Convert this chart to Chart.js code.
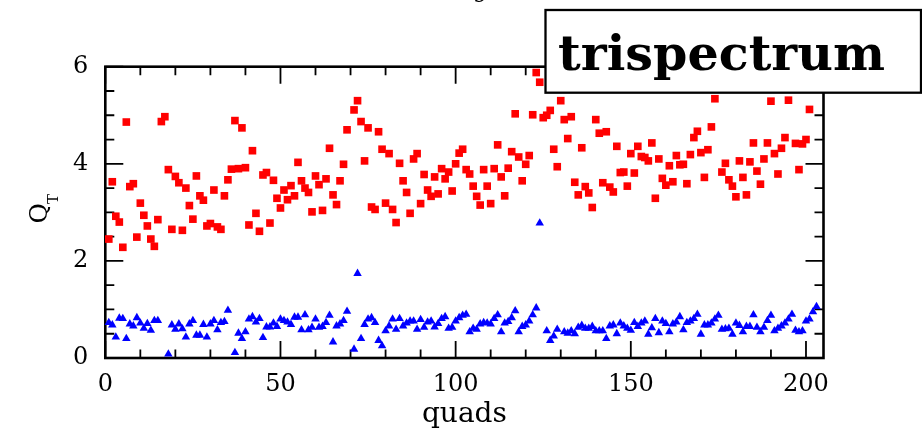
<!DOCTYPE html>
<html>
<head>
<meta charset="utf-8">
<script src="https://cdn.jsdelivr.net/npm/chart.js@4.4.1/dist/chart.umd.min.js"></script>
<style>
  html, body { margin: 0; padding: 0; background: #fff; }
</style>
</head>
<body>
<canvas id="qCanvas" width="922" height="432"></canvas>
<script>
// Q_T per quad (null = not visible / off the axis range)
const redQ = [
  2.45, 3.63, 2.92, 2.80, 2.28, 4.86, 3.53, 3.59, 2.49, 3.19,
  2.94, 2.72, 2.45, 2.30, 2.85, 4.87, 4.97, 3.88, 2.65, 3.74,
  3.61, 2.63, 3.50, 3.14, 2.86, 3.75, 3.34, 3.25, 2.72, 2.77,
  3.46, 2.70, 2.65, 3.34, 3.67, 3.89, 4.89, 3.90, 4.74, 3.92,
  2.74, 4.27, 2.98, 2.61, 3.77, 3.82, 2.78, 3.66, 3.29, 3.09,
  3.46, 3.26, 3.55, 3.34, 4.03, 3.65, 3.50, 3.41, 3.01, 3.75,
  3.57, 3.04, 3.69, 4.32, 3.36, 3.16, 3.65, 3.99, 4.70, null,
  5.11, 5.30, 4.87, 4.06, 4.74, 3.11, 3.06, 4.66, 4.30, 3.19,
  4.21, 3.06, 2.79, 4.01, 3.65, 3.41, 2.98, 4.10, 4.21, 3.18,
  3.78, 3.46, 3.33, 3.73, 3.38, 3.90, 3.69, 3.83, 3.44, 4.00,
  4.22, 4.30, 3.88, 3.79, 3.54, 3.33, 3.15, 3.88, 3.54, 3.18,
  3.90, 4.39, 3.73, 3.34, 3.91, 4.25, 5.03, 4.14, 3.65, 3.99,
  4.17, 5.01, 5.88, 5.68, 4.95, 5.00, 5.10, 4.30, 3.94, 5.30,
  4.91, 4.52, 4.97, 3.62, 3.36, 4.33, 3.53, 3.40, 3.10, 4.91,
  4.63, 3.61, 4.66, 3.52, 3.42, 4.36, 3.82, 3.83, 3.54, 4.21,
  3.81, 4.36, 4.15, 4.13, 4.06, 4.43, 3.29, 4.10, 3.70, 3.56,
  3.96, 3.63, 4.17, 3.98, 3.99, 3.59, 4.19, 4.54, 4.67, 4.23,
  3.72, 4.29, 4.76, 5.34, null, 3.83, 4.01, 3.67, 3.54, 3.32,
  4.06, 3.72, 3.36, 4.04, 4.43, 3.85, 3.58, 4.10, 4.43, 5.29,
  4.21, 3.79, 4.32, 4.54, 5.31, null, 4.42, 3.88, 4.41, 4.50,
  5.12, null, null
];
const blueQ = [
  0.73, 0.68, 0.43, 0.82, 0.81, 0.40, 0.70, 0.66, 0.83, 0.72,
  0.61, 0.71, 0.57, 0.77, 0.77, null, null, 0.08, 0.68, 0.59,
  0.70, 0.60, 0.43, 0.70, 0.77, 0.47, 0.47, 0.69, 0.43, 0.70,
  0.77, 0.58, 0.73, 0.75, 0.98, null, 0.11, 0.51, 0.40, 0.54,
  0.80, 0.85, 0.74, 0.81, 0.42, 0.64, 0.64, 0.72, 0.65, 0.80,
  0.77, 0.74, 0.69, 0.84, 0.84, 0.58, 0.89, 0.58, 0.63, 0.80,
  0.63, 0.65, 0.73, 0.88, 0.33, 0.66, 0.70, 0.77, 0.96, null,
  0.18, 1.74, 0.40, 0.69, 0.80, 0.83, 0.73, 0.36, 0.25, 0.56,
  0.66, 0.80, 0.59, 0.81, 0.66, 0.72, 0.76, 0.76, 0.59, 0.79,
  0.63, 0.74, 0.76, 0.64, 0.71, 0.81, 0.85, 0.61, 0.63, 0.76,
  0.83, 0.88, 0.90, 0.54, 0.61, 0.59, 0.70, 0.73, 0.72, 0.70,
  0.81, 0.89, 0.54, 0.72, 0.75, 0.83, 0.97, 0.54, 0.65, 0.68,
  0.76, 0.89, 1.03, 2.78, null, 0.56, 0.36, 0.45, 0.59, null,
  0.54, 0.51, 0.56, 0.50, 0.63, 0.67, 0.61, 0.61, 0.65, 0.56,
  0.56, 0.56, 0.40, 0.66, 0.68, 0.50, 0.72, 0.66, 0.61, 0.57,
  0.73, 0.65, 0.72, 0.76, 0.49, 0.62, 0.81, 0.52, 0.76, 0.71,
  0.54, 0.70, 0.74, 0.85, 0.58, 0.73, 0.76, 0.81, 0.90, 0.49,
  0.68, 0.68, 0.72, 0.80, 0.88, 0.59, 0.60, 0.61, 0.49, 0.72,
  0.67, 0.54, 0.65, 0.65, 0.89, 0.63, 0.54, 0.63, 0.77, 0.88,
  0.56, 0.61, 0.66, 0.72, 0.80, 0.90, 0.57, 0.54, 0.56, 0.76,
  0.80, 0.95, 1.06
];
// quad number of each entry
const quads = Array.from({ length: blueQ.length }, (_, i) => i + 1);
const xTicks = [0, 50, 100, 150, 200];
const yTicks = [0, 2, 4, 6];
const boxLabel = 'trispectrum';

const toPoints = vals => quads.map((q, i) => ({ x: q, y: vals[i] }));

// closed frame with inward minor/major ticks on all four sides
const framePlugin = {
  id: 'frame',
  beforeDatasetsDraw(chart) {
    const { ctx, chartArea: a, scales: { x, y } } = chart;
    ctx.save();
    ctx.strokeStyle = '#000';
    ctx.lineWidth = 1.8;
    ctx.beginPath();
    for (let v = 0; v <= x.max; v += 10) {
      const px = x.getPixelForValue(v);
      const len = xTicks.includes(v) ? 17 : 8.5;
      ctx.moveTo(px, a.bottom); ctx.lineTo(px, a.bottom - len);
      ctx.moveTo(px, a.top); ctx.lineTo(px, a.top + len);
    }
    for (let v = 0; v <= y.max; v += 0.5) {
      const py = y.getPixelForValue(v);
      const len = yTicks.includes(v) ? 18 : 9;
      ctx.moveTo(a.left, py); ctx.lineTo(a.left + len, py);
      ctx.moveTo(a.right, py); ctx.lineTo(a.right - len, py);
    }
    ctx.stroke();
    ctx.lineWidth = 2.6;
    ctx.strokeRect(a.left, a.top, a.width, a.height);
    ctx.restore();
  }
};

// y title Q_T, the label box and the clipped title fragment
const notesPlugin = {
  id: 'notes',
  afterDraw(chart) {
    const ctx = chart.ctx;
    ctx.save();
    ctx.fillStyle = '#000';

    ctx.translate(47, 215.5);
    ctx.rotate(-Math.PI / 2);
    ctx.textBaseline = 'alphabetic';
    ctx.font = '25px "DejaVu Serif"';
    ctx.fillText('Q', -8, 0);
    const qw = ctx.measureText('Q').width;
    ctx.font = '15px "DejaVu Serif"';
    ctx.fillText('T', -8 + qw - 1, 10.5);
    ctx.setTransform(1, 0, 0, 1, 0, 0);

    ctx.fillStyle = '#fff';
    ctx.fillRect(545.5, 10, 375.5, 82.7);
    ctx.strokeStyle = '#000';
    ctx.lineWidth = 2.3;
    ctx.strokeRect(545.5, 10, 375.5, 82.7);
    ctx.fillStyle = '#000';
    ctx.font = 'bold 10px "DejaVu Serif"';
    const size = 10 * 327 / ctx.measureText(boxLabel).width;
    ctx.font = 'bold ' + size.toFixed(1) + 'px "DejaVu Serif"';
    ctx.fillText(boxLabel, 558, 70);

    ctx.font = '22px "DejaVu Serif"';
    ctx.textAlign = 'center';
    ctx.fillText('g', 480, -3);
    ctx.restore();
  }
};

Chart.defaults.font.family = '"DejaVu Serif"';
Chart.defaults.color = '#000';

new Chart(
  document.getElementById('qCanvas'),
  {
    type: 'scatter',
    plugins: [framePlugin, notesPlugin],
    data: {
      datasets: [
        {
          label: 'red',
          data: toPoints(redQ),
          pointStyle: 'rect',
          pointRadius: 5.4,
          pointBorderWidth: 0,
          backgroundColor: '#ff0000',
          borderColor: '#ff0000',
          clip: false
        },
        {
          label: 'blue',
          data: toPoints(blueQ),
          pointStyle: 'triangle',
          pointRadius: 4.9,
          pointBorderWidth: 0,
          backgroundColor: '#0000ff',
          borderColor: '#0000ff',
          clip: false
        }
      ]
    },
    options: {
      responsive: false,
      animation: false,
      devicePixelRatio: 1,
      layout: { padding: { left: 0, right: 98.5, top: 66.7, bottom: 0 } },
      plugins: { legend: { display: false }, tooltip: { enabled: false } },
      scales: {
        x: {
          type: 'linear',
          min: 0,
          max: 205,
          grid: { display: false, drawTicks: false },
          border: { display: false },
          ticks: {
            stepSize: 50,
            includeBounds: false,
            padding: 12,
            font: { size: 24 },
            callback: v => xTicks.includes(v) ? String(v) : ''
          },
          title: {
            display: true,
            text: 'quads',
            font: { size: 28 },
            padding: { top: 0, bottom: 0 }
          },
          afterFit: s => { s.height = 74; }
        },
        y: {
          min: 0,
          max: 6,
          grid: { display: false, drawTicks: false },
          border: { display: false },
          ticks: {
            stepSize: 2,
            padding: 17,
            font: { size: 24 },
            callback: v => yTicks.includes(v) ? String(v) : ''
          },
          afterFit: s => { s.width = 105.3; }
        }
      }
    }
  }
);
</script>
</body>
</html>
